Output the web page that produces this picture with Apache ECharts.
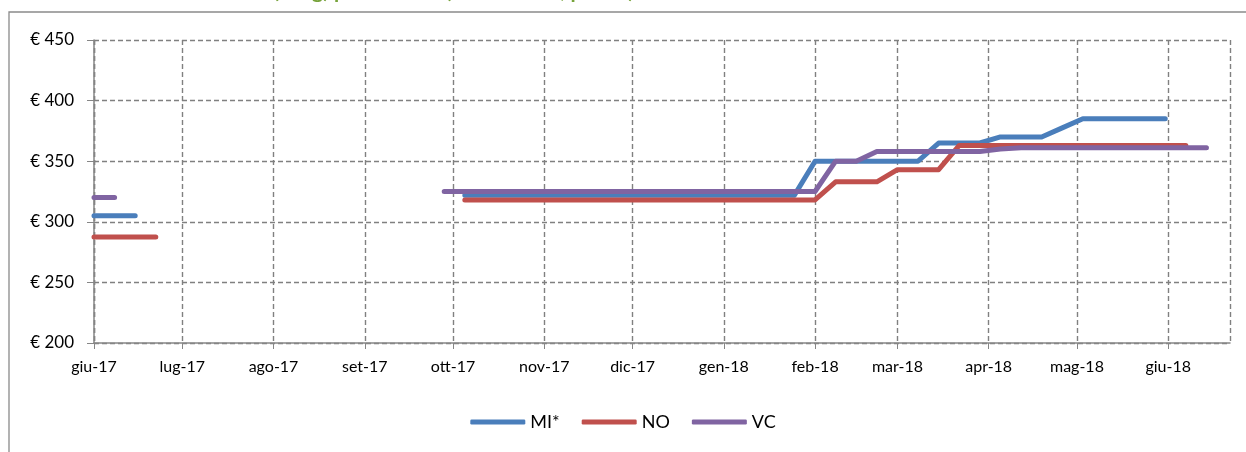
<!DOCTYPE html>
<html>
<head>
<meta charset="utf-8">
<script src="https://cdn.jsdelivr.net/npm/echarts@6/dist/echarts.min.js"></script>
<style>
  html, body { margin: 0; padding: 0; background: #fff; }
  #chart { width: 1246px; height: 452px; }
</style>
</head>
<body>
<div id="chart"></div>
<script>
// rilevazioni settimanali (giovedì)
var weeks = [
  '2017-06-01', '2017-06-08', '2017-06-15', '2017-06-22', '2017-06-29',
  '2017-07-06', '2017-07-13', '2017-07-20', '2017-07-27',
  '2017-08-03', '2017-08-10', '2017-08-17', '2017-08-24', '2017-08-31',
  '2017-09-07', '2017-09-14', '2017-09-21', '2017-09-28',
  '2017-10-05', '2017-10-12', '2017-10-19', '2017-10-26',
  '2017-11-02', '2017-11-09', '2017-11-16', '2017-11-23', '2017-11-30',
  '2017-12-07', '2017-12-14', '2017-12-21', '2017-12-28',
  '2018-01-04', '2018-01-11', '2018-01-18', '2018-01-25',
  '2018-02-01', '2018-02-08', '2018-02-15', '2018-02-22',
  '2018-03-01', '2018-03-08', '2018-03-15', '2018-03-22', '2018-03-29',
  '2018-04-05', '2018-04-12', '2018-04-19', '2018-04-26',
  '2018-05-03', '2018-05-10', '2018-05-17', '2018-05-24', '2018-05-31',
  '2018-06-07', '2018-06-14'
];

var seriesNames = ['MI*', 'NO', 'VC'];

var mi = [
  305, 305, 305, null, null, null, null, null, null, null, null, null, null, null, null, null, null, null,
  322, 322, 322, 322, 322, 322, 322, 322, 322, 322, 322, 322, 322, 322, 322, 322, 322,
  350, 350, 350, 350, 350, 350,
  365, 365, 365,
  370, 370, 370,
  377.5,
  385, 385, 385, 385, 385,
  null, null
];

var no = [
  287.5, 287.5, 287.5, 287.5, null, null, null, null, null, null, null, null, null, null, null, null, null, null,
  318, 318, 318, 318, 318, 318, 318, 318, 318, 318, 318, 318, 318, 318, 318, 318, 318, 318,
  333, 333, 333,
  343, 343, 343,
  363, 363, 363, 363, 363, 363, 363, 363, 363, 363, 363, 363,
  null
];

var vc = [
  320, 320, null, null, null, null, null, null, null, null, null, null, null, null, null, null, null,
  325, 325, 325, 325, 325, 325, 325, 325, 325, 325, 325, 325, 325, 325, 325, 325, 325, 325, 325,
  350, 350,
  358, 358, 358, 358, 358, 358,
  360,
  361, 361, 361, 361, 361, 361, 361, 361, 361, 361
];

var mesi = ['gen', 'feb', 'mar', 'apr', 'mag', 'giu', 'lug', 'ago', 'set', 'ott', 'nov', 'dic'];
var colors = ['#4a7ebb', '#c0504d', '#8064a2'];
var DAY = 24 * 3600 * 1000;
var FONT = 'Lato';

function pairs(values) {
  return weeks.map(function (w, i) { return [w, values[i]]; });
}

function lineSeries(name, values) {
  return {
    name: name,
    type: 'line',
    data: pairs(values),
    showSymbol: false,
    symbol: 'none',
    connectNulls: false,
    lineStyle: { width: 5, cap: 'round', join: 'round' },
    emphasis: { disabled: true }
  };
}

var chart = echarts.init(document.getElementById('chart'));
chart.setOption({
  backgroundColor: '#ffffff',
  color: colors,
  animation: false,
  title: {
    text: 'Risone (€/kg) prezzi medi (borse merci, piazze)',
    left: 205,
    top: -19,
    padding: 0,
    textStyle: { color: '#77a33b', fontSize: 21, fontWeight: 'bold', fontFamily: FONT }
  },
  graphic: [{
    type: 'rect',
    shape: { x: 9, y: 12, width: 1260, height: 470 },
    style: { fill: 'none', stroke: '#8a8a8a', lineWidth: 1.3 },
    silent: true
  }],
  grid: { left: 94, right: 16, top: 40, bottom: 109, containLabel: false },
  legend: {
    data: seriesNames,
    bottom: 16,
    left: 'center',
    icon: 'roundRect',
    itemWidth: 55,
    itemHeight: 5,
    itemGap: 22,
    textStyle: { fontSize: 18, color: '#000', fontFamily: FONT }
  },
  xAxis: {
    type: 'time',
    min: '2017-06-01',
    max: '2018-06-22',
    minInterval: 28 * DAY,
    maxInterval: 31 * DAY,
    axisLine: { lineStyle: { color: '#868686', width: 1.5 } },
    axisTick: { show: true, length: 6, lineStyle: { color: '#868686' } },
    axisLabel: {
      color: '#000',
      fontSize: 16,
      fontFamily: FONT,
      margin: 16,
      showMinLabel: true,
      showMaxLabel: false,
      formatter: function (v) {
        var d = new Date(v);
        return mesi[d.getMonth()] + '-' + String(d.getFullYear()).slice(2);
      }
    },
    splitLine: { show: true, lineStyle: { color: '#808080', type: [5, 3], width: 1.4 } }
  },
  yAxis: {
    type: 'value',
    min: 200,
    max: 450,
    interval: 50,
    axisLine: { show: true, lineStyle: { color: '#868686', width: 1.5 } },
    axisTick: { show: true, length: 7, lineStyle: { color: '#868686' } },
    axisLabel: { color: '#000', fontSize: 17, fontFamily: FONT, margin: 20, formatter: '€ {value}' },
    splitLine: { show: true, lineStyle: { color: '#808080', type: [5, 3], width: 1.4 } }
  },
  series: [
    lineSeries(seriesNames[0], mi),
    lineSeries(seriesNames[1], no),
    lineSeries(seriesNames[2], vc)
  ]
});
</script>
</body>
</html>
